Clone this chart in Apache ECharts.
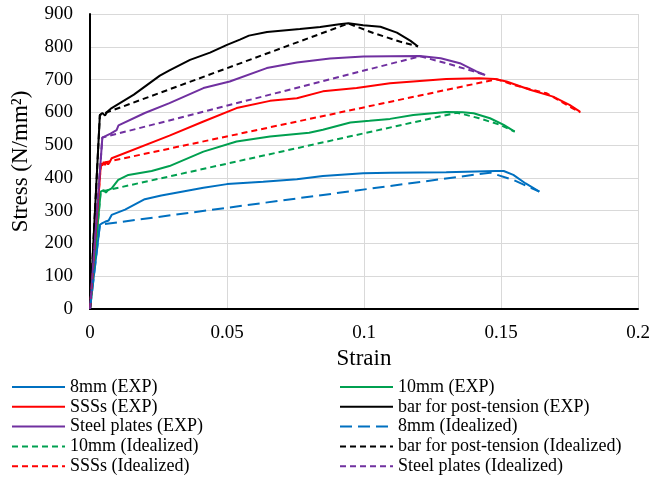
<!DOCTYPE html>
<html>
<head>
<meta charset="utf-8">
<script src="https://cdn.jsdelivr.net/npm/echarts@6/dist/echarts.min.js"></script>
<style>
  html, body { margin: 0; padding: 0; background: #fff; }
  #chart { width: 669px; height: 490px; }
</style>
</head>
<body>
<div id="chart"></div>
<script>
// Stress-strain curves: [strain, stress (N/mm²)] pairs per specimen.
const exp8mm = [[0,0],[0.0036,257],[0.0045,262],[0.0055,266],[0.0062,263],[0.0068,270],[0.0074,272],[0.0079,287],[0.0128,303],[0.020,335],[0.026,346],[0.029,351],[0.0414,370],[0.050,381],[0.0632,388],[0.0755,396],[0.085,406],[0.0997,414],[0.1095,416],[0.130,417],[0.148,421],[0.151,421],[0.1545,409],[0.159,383],[0.164,358]];
const exp10mm = [[0,0],[0.0039,358],[0.0045,352],[0.005,363],[0.0058,355],[0.0065,362],[0.0079,368],[0.0103,394],[0.014,409],[0.0225,421],[0.029,436],[0.0414,480],[0.0535,511],[0.0657,526],[0.080,538],[0.085,547],[0.095,569],[0.102,574],[0.1095,580],[0.118,592],[0.130,601],[0.136,600],[0.140,597],[0.146,582],[0.151,562],[0.155,541]];
const expSSSs = [[0,0],[0.004,445],[0.0045,437],[0.005,449],[0.0055,439],[0.006,450],[0.0066,441],[0.0072,448],[0.0079,460],[0.029,529],[0.0414,572],[0.0535,613],[0.0657,635],[0.0755,643],[0.085,664],[0.0973,674],[0.1095,689],[0.130,702],[0.142,704],[0.1478,702],[0.152,694],[0.1606,669],[0.169,648],[0.175,623],[0.1788,602]];
const expBar = [[0,0],[0.0036,592],[0.0045,598],[0.0055,590],[0.0062,601],[0.0079,613],[0.016,654],[0.0255,712],[0.029,728],[0.0365,760],[0.0438,782],[0.050,806],[0.0547,822],[0.058,834],[0.0646,845],[0.0766,854],[0.084,860],[0.091,869],[0.0943,872],[0.0997,866],[0.106,861],[0.112,843],[0.117,818],[0.1197,801]];
const expPlates = [[0,0],[0.0045,523],[0.0058,528],[0.0075,535],[0.0097,546],[0.0104,560],[0.020,598],[0.029,628],[0.0414,674],[0.051,694],[0.0645,735],[0.0755,752],[0.0876,764],[0.0998,770],[0.1095,771],[0.1204,772],[0.128,765],[0.135,750],[0.141,725],[0.1442,714]];

const ideal8mm = [[0,0],[0.0036,257],[0.146,416],[0.1545,394],[0.164,358]];
const ideal10mm = [[0,0],[0.0039,358],[0.134,599],[0.142,582],[0.1496,562],[0.155,541]];
const idealBar = [[0,0],[0.0036,592],[0.0943,871],[0.1034,842],[0.113,816],[0.1197,801]];
const idealSSSs = [[0,0],[0.004,445],[0.1484,701],[0.1545,684],[0.1667,658],[0.176,613],[0.179,600]];
const idealPlates = [[0,0],[0.0045,523],[0.1204,771],[0.130,750],[0.140,725],[0.1442,714]];

const seriesNames = [
  '8mm (EXP)', '10mm (EXP)', 'SSSs (EXP)', 'bar for post-tension (EXP)', 'Steel plates (EXP)',
  '8mm (Idealized)', '10mm (Idealized)', 'bar for post-tension (Idealized)', 'SSSs (Idealized)', 'Steel plates (Idealized)'
];
const seriesData = [exp8mm, exp10mm, expSSSs, expBar, expPlates, ideal8mm, ideal10mm, idealBar, idealSSSs, idealPlates];

const xTicks = [0, 0.05, 0.1, 0.15, 0.2];
const yTicks = [0, 100, 200, 300, 400, 500, 600, 700, 800, 900];

const BLUE = '#0070C0', GREEN = '#00A050', RED = '#FF0000', BLACK = '#000000', PURPLE = '#7030A0';
const colors = [BLUE, GREEN, RED, BLACK, PURPLE, BLUE, GREEN, BLACK, RED, PURPLE];
const dashes = ['solid','solid','solid','solid','solid',[12,6],[6,4],[6,4],[6,4],[6,4]];

const FONT = '"Liberation Serif", "Times New Roman", serif';

const series = seriesNames.map((name, i) => ({
  name,
  type: 'line',
  data: seriesData[i],
  symbol: 'none',
  showSymbol: false,
  color: colors[i],
  lineStyle: { color: colors[i], width: 2, type: dashes[i] },
  z: 2 + i
}));

// Two vertical legend columns; line samples only (symbol hidden).
const legendBase = {
  orient: 'vertical',
  itemWidth: 53,
  itemHeight: 12,
  itemGap: 1.8,
  itemStyle: { opacity: 0, borderWidth: 0 },
  textStyle: { fontFamily: FONT, fontSize: 18, color: '#000', lineHeight: 18 },
  padding: 0
};

const chart = echarts.init(document.getElementById('chart'), null, { renderer: 'canvas' });
chart.setOption({
  animation: false,
  backgroundColor: '#ffffff',
  grid: { left: 90, right: 31, top: 14, bottom: 181, containLabel: false },
  xAxis: {
    type: 'value',
    min: xTicks[0], max: xTicks[xTicks.length - 1], interval: 0.05,
    name: 'Strain',
    nameLocation: 'middle',
    nameGap: 34,
    nameTextStyle: { fontFamily: FONT, fontSize: 23, color: '#000' },
    axisLine: { show: true, onZero: false, lineStyle: { color: '#000', width: 2 } },
    axisTick: { show: false },
    axisLabel: { fontFamily: FONT, fontSize: 19, color: '#000', margin: 15 },
    splitLine: { show: true, lineStyle: { color: '#d9d9d9', width: 1 } }
  },
  yAxis: {
    type: 'value',
    min: yTicks[0], max: yTicks[yTicks.length - 1], interval: 100,
    name: 'Stress (N/mm²)',
    nameLocation: 'middle',
    nameGap: 58,
    nameRotate: 90,
    nameTextStyle: { fontFamily: FONT, fontSize: 23, color: '#000' },
    axisLine: { show: true, onZero: false, lineStyle: { color: '#000', width: 2 } },
    axisTick: { show: false },
    axisLabel: { fontFamily: FONT, fontSize: 19, color: '#000', margin: 17 },
    splitLine: { show: true, lineStyle: { color: '#d9d9d9', width: 1 } }
  },
  legend: [
    Object.assign({}, legendBase, {
      left: 11, top: 378,
      data: ['8mm (EXP)', 'SSSs (EXP)', 'Steel plates (EXP)', '10mm (Idealized)', 'SSSs (Idealized)']
    }),
    Object.assign({}, legendBase, {
      left: 339, top: 378,
      data: ['10mm (EXP)', 'bar for post-tension (EXP)', '8mm (Idealized)', 'bar for post-tension (Idealized)', 'Steel plates (Idealized)']
    })
  ],
  series
});
</script>
</body>
</html>
